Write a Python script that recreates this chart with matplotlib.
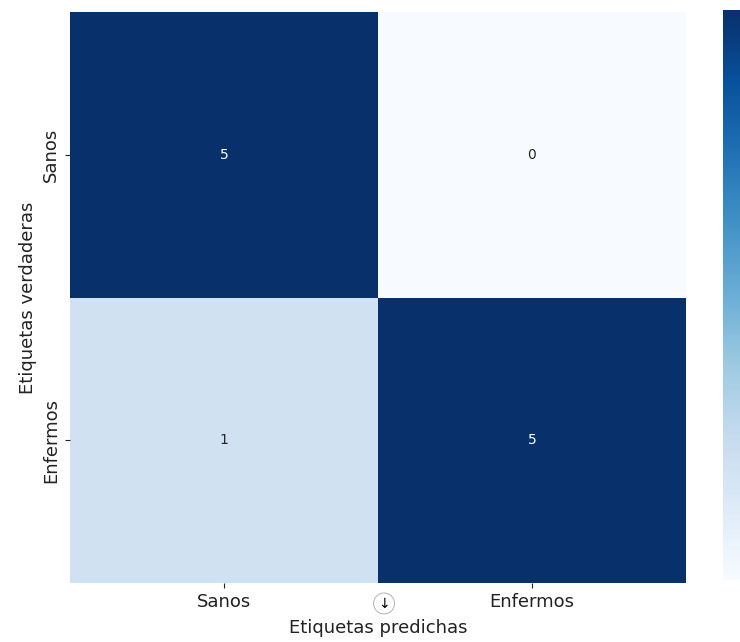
import numpy as np
import matplotlib
matplotlib.use('Agg')
import matplotlib.pyplot as plt
import seaborn as sns

# Confusion matrix values
labels = ['Sanos', 'Enfermos']
matrix = [[5, 0],
          [1, 5]]

plt.rcParams['font.family'] = ['DejaVu Sans']

fig = plt.figure(figsize=(7.4, 6.42), dpi=100)
ax = fig.add_axes([0.0946, 0.0919, 0.8324, 0.8894])
cax = fig.add_axes([0.977, 0.0966, 0.05, 0.8874])

sns.heatmap(np.array(matrix), annot=True, fmt='d', cmap='Blues',
            xticklabels=labels, yticklabels=labels, ax=ax, cbar_ax=cax,
            annot_kws={'fontsize': 10})

# colorbar is cropped at the right edge in the reference
cax.tick_params(labelright=False, right=False)

ax.set_xlabel('Etiquetas predichas', fontsize=13, color='#222222')
ax.set_ylabel('Etiquetas verdaderas', fontsize=13, color='#222222')
ax.tick_params(axis='both', labelsize=13, colors='#222222')
ax.xaxis.labelpad = 6

# scroll button overlay seen in the screenshot
fig.text(0.519, 0.06, '\u2193', ha='center', va='center', fontsize=10,
         bbox=dict(boxstyle='circle,pad=0.25', fc='white', ec='#bbbbbb', lw=0.8))

fig.savefig('out.png', dpi=100)
